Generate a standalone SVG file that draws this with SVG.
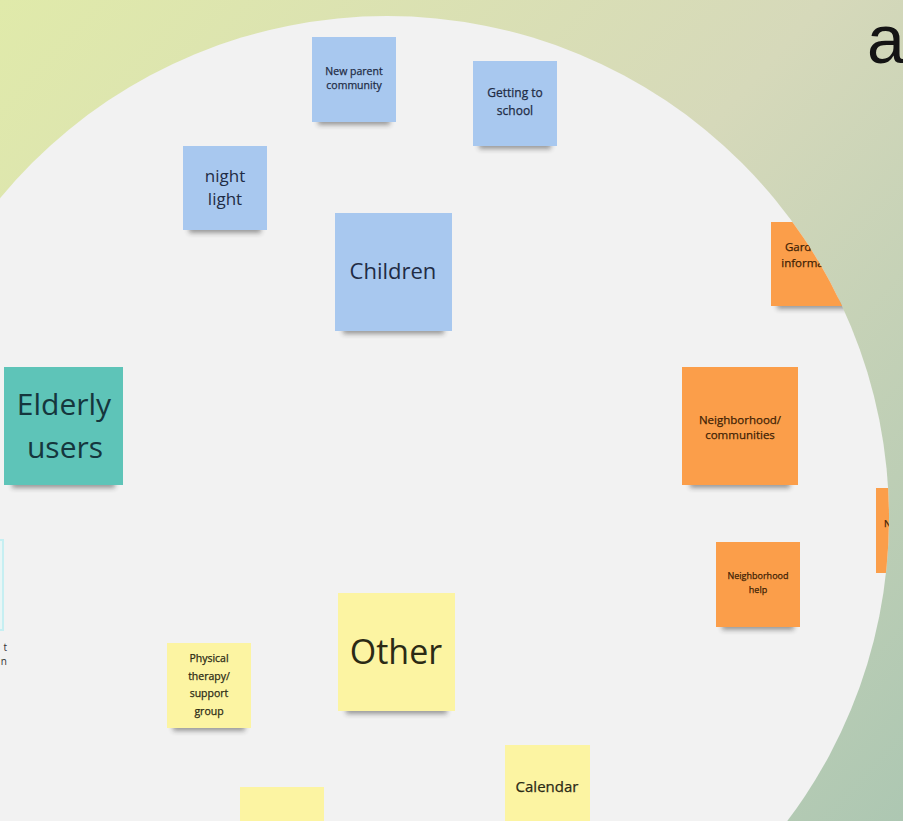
<svg xmlns="http://www.w3.org/2000/svg" width="903" height="821" viewBox="0 0 903 821">
<defs>
<linearGradient id="bg" x1="0" y1="0" x2="903" y2="821" gradientUnits="userSpaceOnUse">
<stop offset="0" stop-color="#e0eaaa"/>
<stop offset="0.5" stop-color="#d6d9ba"/>
<stop offset="1" stop-color="#adc7b2"/>
</linearGradient>
<clipPath id="circ"><circle cx="387" cy="518" r="502"/></clipPath>
<filter id="sh" x="-20%" y="-50%" width="140%" height="200%"><feGaussianBlur stdDeviation="2.5"/></filter>
</defs>
<style>
.blue{fill:#a8c8ef}
.teal{fill:#5ec4b8}
.yellow{fill:#fcf4a2}
.orange{fill:#fb9e4a}
.shadow{fill:#2a2a2a;opacity:0.45;filter:url(#sh)}
text{font-family:"Open Sans","Noto Sans","Liberation Sans",sans-serif;text-anchor:middle}
.sm{stroke-width:0.25px}
.tb{fill:#1f2c45}
.tb.sm{stroke:#1f2c45}
.tt{fill:#15363d}
.ty{fill:#2b2a15}
.ty.sm{stroke:#2b2a15}
.to{fill:#3e1f05}
.to.sm{stroke:#3e1f05}
</style>
<rect x="0" y="0" width="903" height="821" fill="url(#bg)"/>
<circle cx="387" cy="518" r="502" fill="#f2f2f2"/>
<text x="867" y="63" style="font-family:'Liberation Sans',Arial,sans-serif;font-size:68px;text-anchor:start;fill:#141414">a</text>
<g clip-path="url(#circ)">
<g id="connectors"></g>
<g id="new-parent">
<rect class="shadow" x="318" y="116" width="72" height="9"/>
<rect class="blue" x="312" y="37" width="84" height="85"/>
<text class="tb sm" x="354" y="75" font-size="10.5">New parent</text>
<text class="tb sm" x="354" y="89" font-size="10.5">community</text>
</g>
<g id="getting-to-school">
<rect class="shadow" x="479" y="140" width="72" height="9"/>
<rect class="blue" x="473" y="61" width="84" height="85"/>
<text class="tb sm" x="515" y="97" font-size="12">Getting to</text>
<text class="tb sm" x="515" y="115" font-size="12">school</text>
</g>
<g id="night-light">
<rect class="shadow" x="189" y="224" width="72" height="9"/>
<rect class="blue" x="183" y="146" width="84" height="84"/>
<text class="tb" x="225" y="182" font-size="17">night</text>
<text class="tb" x="225" y="205" font-size="17">light</text>
</g>
<g id="children">
<rect class="shadow" x="343" y="324" width="101" height="10"/>
<rect class="blue" x="335" y="213" width="117" height="118"/>
<text class="tb" x="393" y="279" font-size="22">Children</text>
</g>
<g id="elderly-users">
<rect class="shadow" x="12" y="478" width="103" height="10"/>
<rect class="teal" x="4" y="367" width="119" height="118"/>
<text class="tt" x="64" y="415" font-size="30">Elderly</text>
<text class="tt" x="65" y="458" font-size="30">users</text>
</g>
<g id="other">
<rect class="shadow" x="346" y="704" width="101" height="10"/>
<rect class="yellow" x="338" y="593" width="117" height="118"/>
<text class="ty" x="396" y="664" font-size="34">Other</text>
</g>
<g id="physical-therapy">
<rect class="shadow" x="173" y="722" width="72" height="9"/>
<rect class="yellow" x="167" y="643" width="84" height="85"/>
<text class="ty sm" x="209" y="662" font-size="10.5">Physical</text>
<text class="ty sm" x="209" y="680" font-size="10.5">therapy/</text>
<text class="ty sm" x="209" y="697" font-size="10.5">support</text>
<text class="ty sm" x="209" y="715" font-size="10.5">group</text>
</g>
<g id="calendar">
<rect class="yellow" x="505" y="745" width="85" height="85"/>
<text class="ty sm" x="547" y="792" font-size="15">Calendar</text>
</g>
<g id="yellow-bottom">
<rect class="yellow" x="240" y="787" width="84" height="85"/>
</g>
<g id="gardening">
<rect class="shadow" x="777" y="300" width="72" height="9"/>
<rect class="orange" x="771" y="222" width="84" height="84"/>
<text class="to sm" x="813" y="251" font-size="11.5">Gardening</text>
<text class="to sm" x="813" y="267" font-size="11.5">information</text>
</g>
<g id="neighborhood-communities">
<rect class="shadow" x="690" y="478" width="100" height="10"/>
<rect class="orange" x="682" y="367" width="116" height="118"/>
<text class="to sm" x="740" y="424" font-size="11.5">Neighborhood/</text>
<text class="to sm" x="740" y="439" font-size="11.5">communities</text>
</g>
<g id="neighborhood-help">
<rect class="shadow" x="722" y="621" width="72" height="9"/>
<rect class="orange" x="716" y="542" width="84" height="85"/>
<text class="to sm" x="758" y="579" font-size="9">Neighborhood</text>
<text class="to sm" x="758" y="593" font-size="9">help</text>
</g>
<g id="orange-right">
<rect class="orange" x="876" y="488" width="84" height="85"/>
<text class="to sm" x="884" y="527" font-size="9.5" style="text-anchor:start">N</text>
</g>
<g id="left-partial">
<rect x="-80" y="540" width="83" height="90" fill="#e9f6f6" stroke="#c6eff2" stroke-width="2"/>
<text x="7" y="651" font-size="10" style="text-anchor:end;fill:#333">t</text>
<text x="7" y="665" font-size="10" style="text-anchor:end;fill:#333">n</text>
</g>
</g>
</svg>
